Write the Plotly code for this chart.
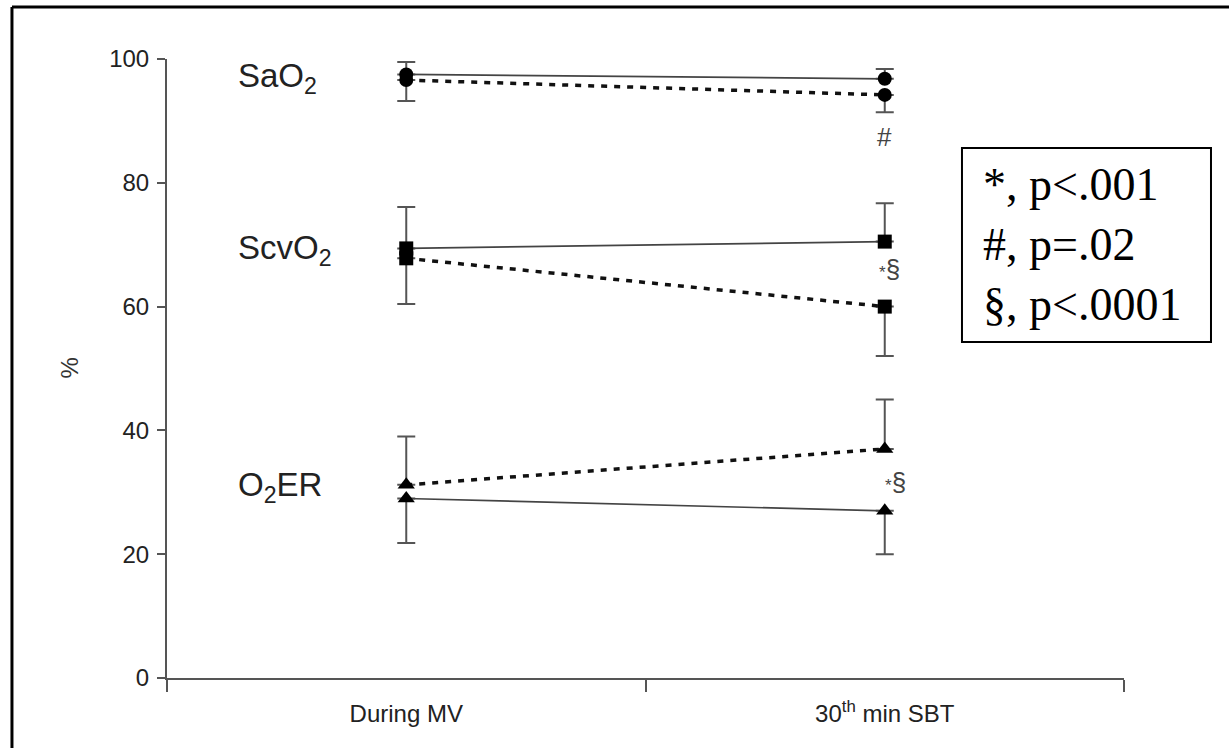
import plotly.graph_objects as go

# ---- data ----
x_pos = [1, 3]
x_labels = ["During MV", "30<sup>th</sup> min SBT"]

sao2_solid = [97.5, 96.8]
sao2_solid_up = [2.0, 1.6]
sao2_dash = [96.6, 94.2]
sao2_dash_down = [3.4, 2.8]

scvo2_solid = [69.4, 70.5]
scvo2_solid_up = [6.7, 6.2]
scvo2_dash = [67.8, 60.0]
scvo2_dash_down = [7.4, 8.0]

o2er_solid = [29.0, 27.0]
o2er_solid_down = [7.2, 7.0]
o2er_dash = [31.2, 37.0]
o2er_dash_up = [7.8, 8.0]

y_ticks = [0, 20, 40, 60, 80, 100]

series_labels = ["SaO<sub>2</sub>", "ScvO<sub>2</sub>", "O<sub>2</sub>ER"]
series_label_y = [96.9, 69.1, 30.9]

sig_text = ["#", "<span style='font-size:17px'>*</span>§", "<span style='font-size:17px'>*</span>§"]
sig_y = [87.4, 66.0, 31.6]
sig_xshift = [0, 5, 11]

legend_lines = ["*, p&lt;.001", "#, p=.02", "§, p&lt;.0001"]

AX = "#555555"
fig = go.Figure()


def add(y, up, down, symbol, dashed, size):
    fig.add_trace(go.Scatter(
        x=x_pos, y=y, mode="lines+markers",
        line=dict(color="#111111" if dashed else "#444444",
                  width=3.5 if dashed else 1.7,
                  dash="6px,7px" if dashed else "solid"),
        marker=dict(symbol=symbol, size=size, color="#000000"),
        error_y=dict(type="data", symmetric=False, array=up, arrayminus=down,
                     color=AX, thickness=2, width=9),
        showlegend=False, hoverinfo="y"))


z = [0, 0]
add(sao2_dash, z, sao2_dash_down, "circle", True, 14)
add(sao2_solid, sao2_solid_up, z, "circle", False, 14)
add(scvo2_dash, z, scvo2_dash_down, "square", True, 14)
add(scvo2_solid, scvo2_solid_up, z, "square", False, 14)
add(o2er_dash, o2er_dash_up, z, "triangle-up", True, 15)
add(o2er_solid, z, o2er_solid_down, "triangle-up", False, 15)

annotations = []
for lab, yv in zip(series_labels, series_label_y):
    annotations.append(dict(x=0.29, y=yv, xref="x", yref="y", text=lab,
                            showarrow=False, xanchor="left", yanchor="middle",
                            font=dict(family="Liberation Sans, Arial", size=33, color="#222222")))
for t, yv, xs in zip(sig_text, sig_y, sig_xshift):
    annotations.append(dict(x=3, y=yv, xref="x", yref="y", text=t, showarrow=False,
                            xanchor="center", yanchor="middle", xshift=xs,
                            font=dict(family="Liberation Sans, Arial", size=26, color="#444444")))
annotations.append(dict(x=0.0, y=0.5, xref="paper", yref="paper", text="%",
                        showarrow=False, textangle=-90, xanchor="center", xshift=-98,
                        font=dict(family="Liberation Sans, Arial", size=24, color="#333333")))
annotations.append(dict(x=0.851, y=0.7, xref="paper", yref="paper",
                        text="<br>".join(legend_lines), showarrow=False,
                        xanchor="left", yanchor="middle", align="left",
                        font=dict(family="Liberation Serif, Times New Roman", size=46, color="#000000")))

shapes = [
    dict(type="rect", xref="paper", yref="paper", x0=0.8307, x1=1.0909, y0=0.5428, y1=0.8562,
         line=dict(color="black", width=2), fillcolor="white", layer="below"),
    dict(type="line", xref="paper", yref="paper", x0=-0.162, x1=1.12, y0=1.084, y1=1.084,
         line=dict(color="black", width=3)),
    dict(type="line", xref="paper", yref="paper", x0=-0.162, x1=-0.162, y0=1.084, y1=-0.15,
         line=dict(color="black", width=3)),
]

fig.update_layout(
    width=1229, height=748,
    margin=dict(l=167, r=105, t=59, b=70),
    plot_bgcolor="white", paper_bgcolor="white",
    annotations=annotations, shapes=shapes,
    xaxis=dict(range=[0, 4], tickvals=x_pos, ticktext=x_labels, ticks="",
               showline=True, linecolor=AX, linewidth=2, showgrid=False, zeroline=False,
               ticklabelstandoff=13,
               minor=dict(tick0=0, dtick=2, ticks="outside", ticklen=12, tickcolor=AX,
                          tickwidth=2, showgrid=False),
               tickfont=dict(family="Liberation Sans, Arial", size=24, color="#222222")),
    yaxis=dict(range=[0, 100], tickvals=y_ticks, ticks="outside", ticklen=8, tickcolor=AX,
               tickwidth=2, showline=True, linecolor=AX, linewidth=2, showgrid=False,
               zeroline=False, ticklabelstandoff=3,
               tickfont=dict(family="Liberation Sans, Arial", size=24, color="#222222")),
)

fig.write_html("out.html", config={"displayModeBar": False},
               post_script="document.body.style.margin='0px';")
